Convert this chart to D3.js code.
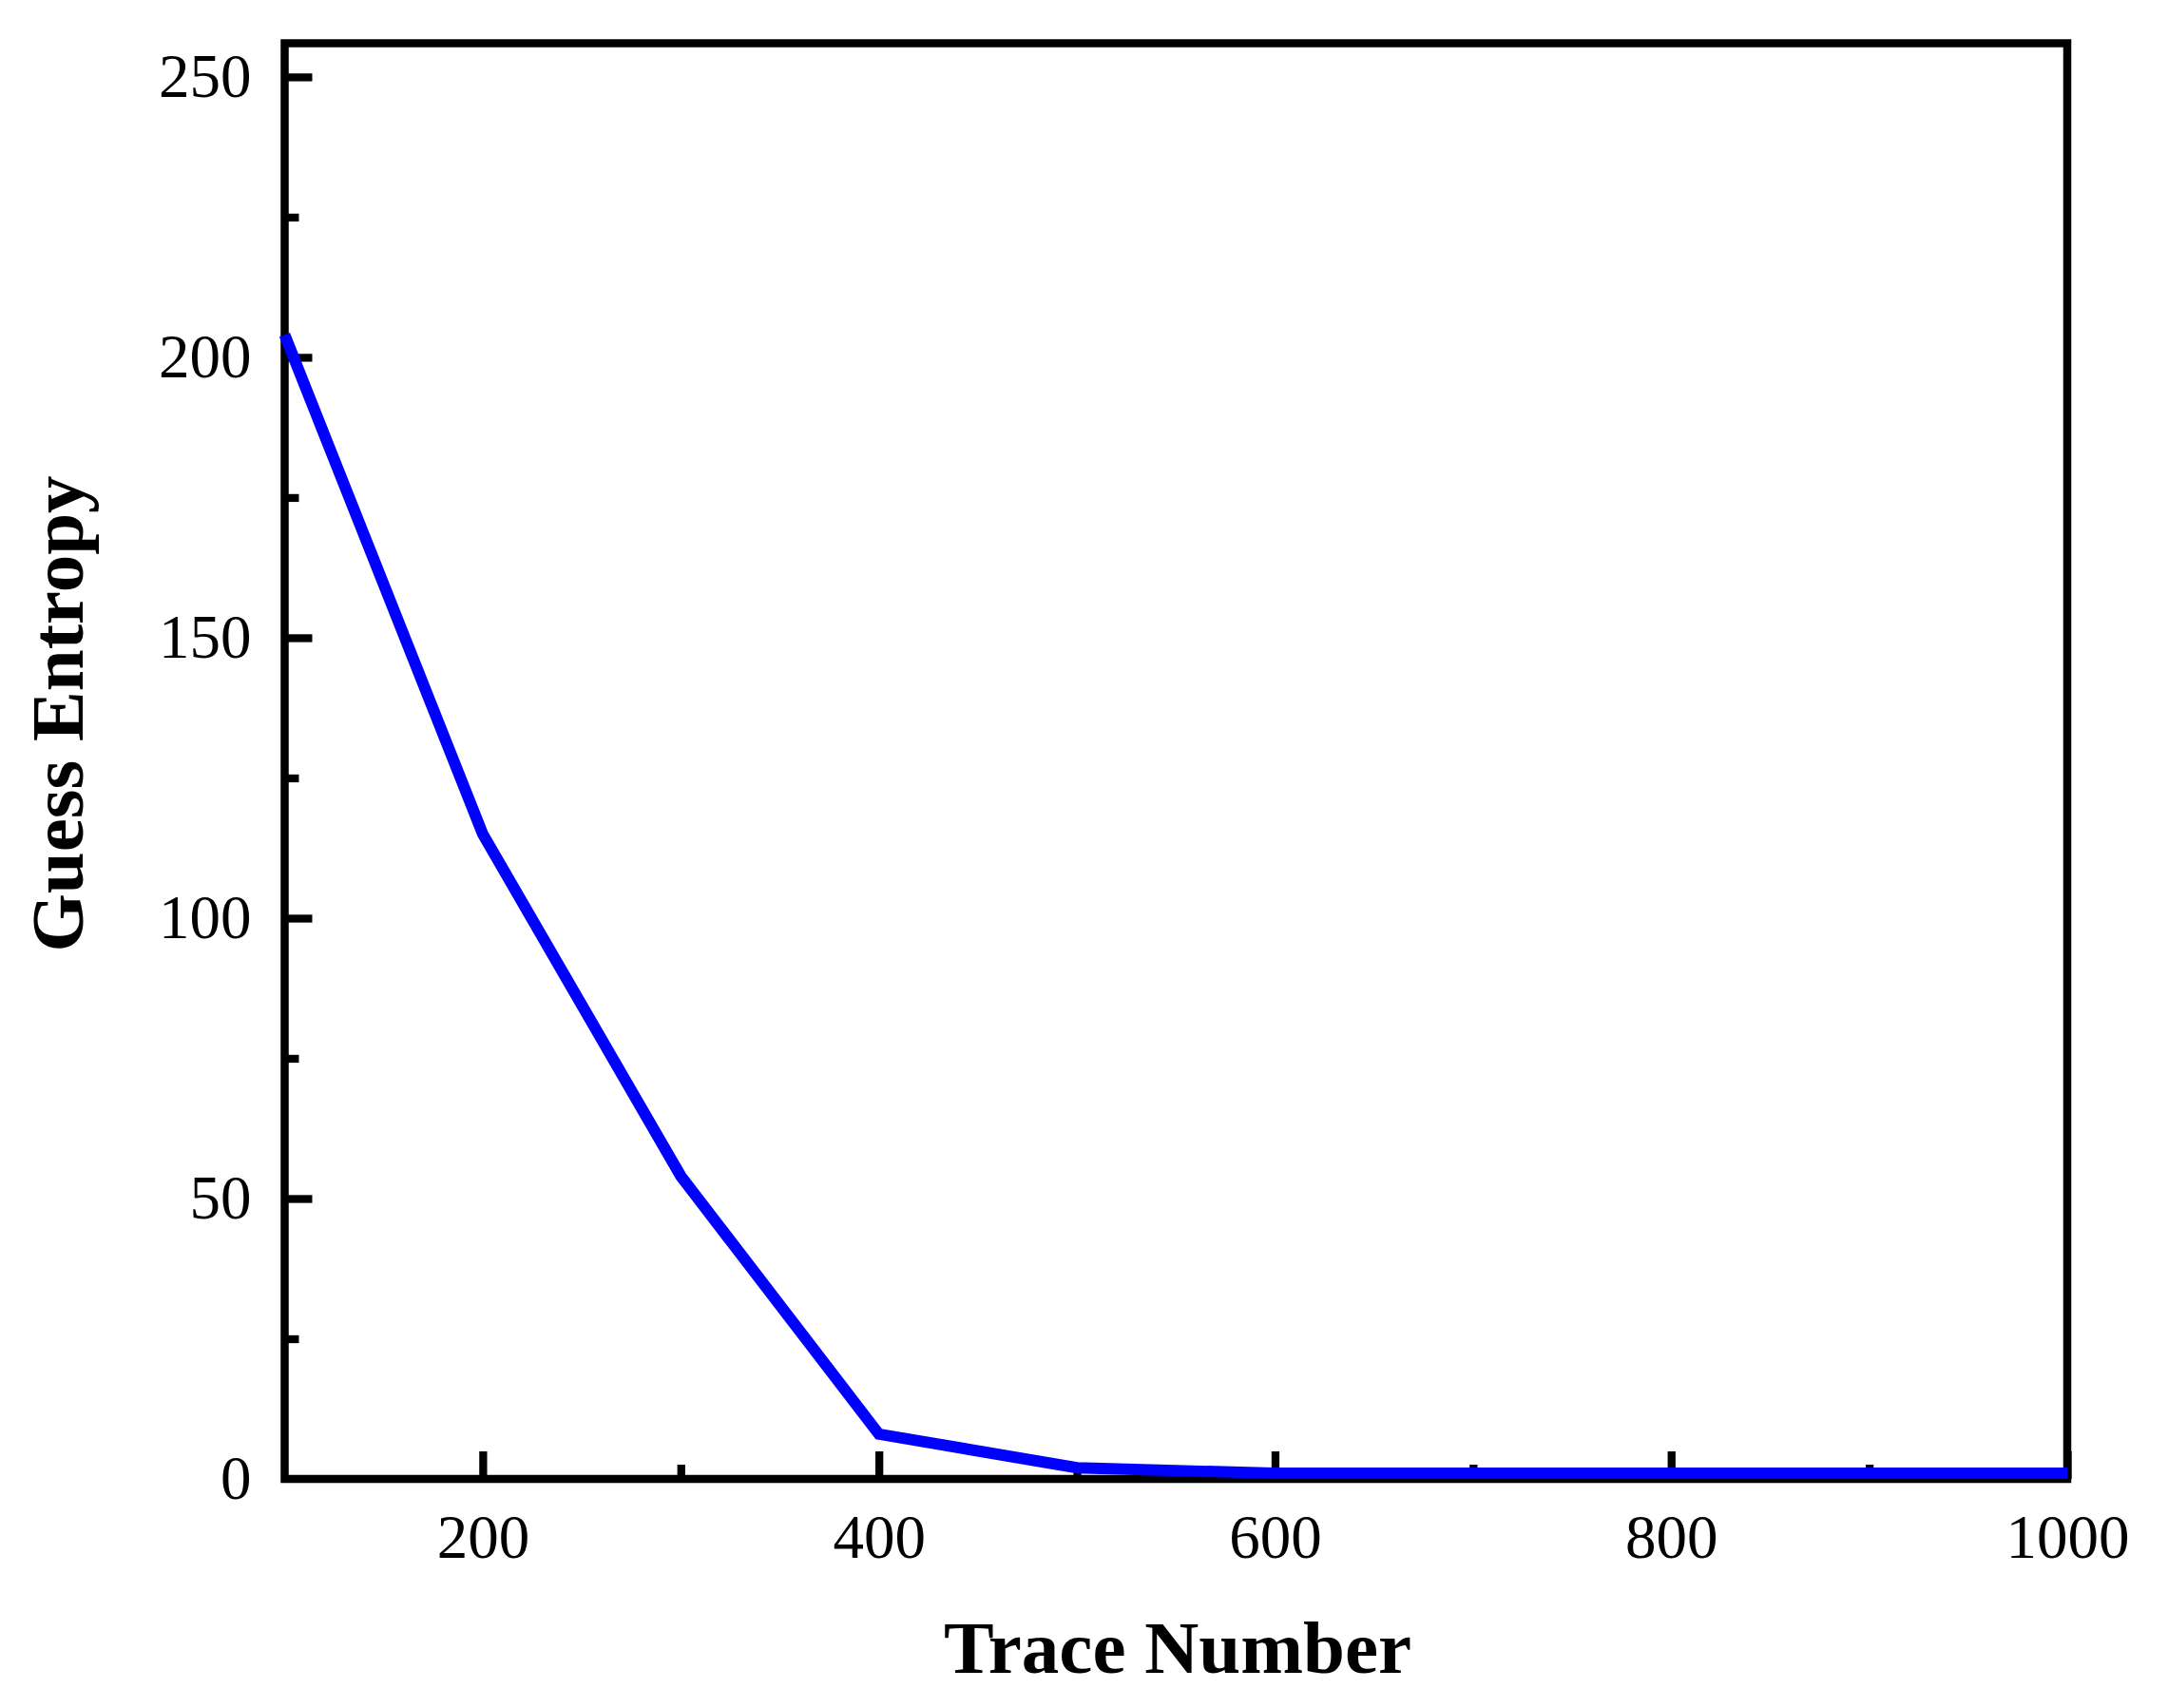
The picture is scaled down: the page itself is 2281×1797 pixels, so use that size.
<!DOCTYPE html>
<html>
<head>
<meta charset="utf-8">
<script src="https://cdn.jsdelivr.net/npm/d3@7"></script>
<style>
  html, body { margin: 0; padding: 0; background: #fff; }
  svg { display: block; }
  text { font-family: "Times New Roman", "Liberation Serif", serif; fill: #000; }
</style>
</head>
<body>
<script>
// ---- data ----
const traceNumbers = [100, 200, 300, 400, 500, 600, 700, 800, 900, 1000];
const guessEntropy = [204, 115, 54, 8, 2, 1, 1, 1, 1, 1];
const xMajorTicks = [200, 400, 600, 800, 1000];
const xMinorTicks = [300, 500, 700, 900];
const yMajorTicks = [0, 50, 100, 150, 200, 250];
const yMinorTicks = [25, 75, 125, 175, 225];
const xTitle = "Trace Number";
const yTitle = "Guess Entropy";

// ---- layout ----
const W = 2281, H = 1797;
const plotLeft = 299.5, plotRight = 2175, plotTop = 45.5, plotBottom = 1556;
const frameW = 8.5;
const majorLen = 29, minorLen = 15;
const fontSize = 65;

const svg = d3.select("body").append("svg")
  .attr("width", W).attr("height", H);

const x = d3.scaleLinear().domain([100, 1000]).range([plotLeft, plotRight]);
const y = d3.scaleLinear().domain([0, 256]).range([plotBottom, plotTop]);

// y axis major
svg.append("g").attr("class", "yaxis").attr("transform", `translate(${plotLeft},0)`)
  .call(d3.axisLeft(y).tickValues(yMajorTicks).tickSize(-majorLen).tickPadding(35).tickFormat(d3.format("d")));
// y axis minor
svg.append("g").attr("transform", `translate(${plotLeft},0)`)
  .call(d3.axisLeft(y).tickValues(yMinorTicks).tickSize(-minorLen).tickFormat(""));
// x axis major
svg.append("g").attr("transform", `translate(0,${plotBottom})`)
  .call(d3.axisBottom(x).tickValues(xMajorTicks).tickSize(-majorLen).tickPadding(37).tickFormat(d3.format("d")));
// x axis minor
svg.append("g").attr("transform", `translate(0,${plotBottom})`)
  .call(d3.axisBottom(x).tickValues(xMinorTicks).tickSize(-minorLen).tickFormat(""));

svg.selectAll(".domain").remove();
svg.selectAll(".tick line").attr("stroke", "#000").attr("stroke-width", 8.3);
svg.selectAll(".yaxis .tick").filter(d => d === 0).select("line").remove();
svg.selectAll(".tick text")
  .style("font-family", "'Times New Roman', 'Liberation Serif', serif")
  .style("font-size", fontSize + "px")
  .attr("fill", "#000");

// frame
svg.append("rect")
  .attr("x", plotLeft).attr("y", plotTop)
  .attr("width", plotRight - plotLeft).attr("height", plotBottom - plotTop)
  .attr("fill", "none").attr("stroke", "#000").attr("stroke-width", frameW);

// data line
const line = d3.line().x((d, i) => x(traceNumbers[i])).y(d => y(d));
svg.append("path")
  .datum(guessEntropy)
  .attr("d", line)
  .attr("fill", "none")
  .attr("stroke", "#0000ff")
  .attr("stroke-width", 12)
  .attr("stroke-linejoin", "miter");

// axis titles
svg.append("text")
  .attr("x", 1239).attr("y", 1760)
  .attr("text-anchor", "middle")
  .style("font-size", "79px").style("font-weight", "bold")
  .text(xTitle);

svg.append("text")
  .attr("transform", "translate(87,751) rotate(-90)")
  .attr("text-anchor", "middle")
  .style("font-size", "79px").style("font-weight", "bold")
  .text(yTitle);
</script>
</body>
</html>
